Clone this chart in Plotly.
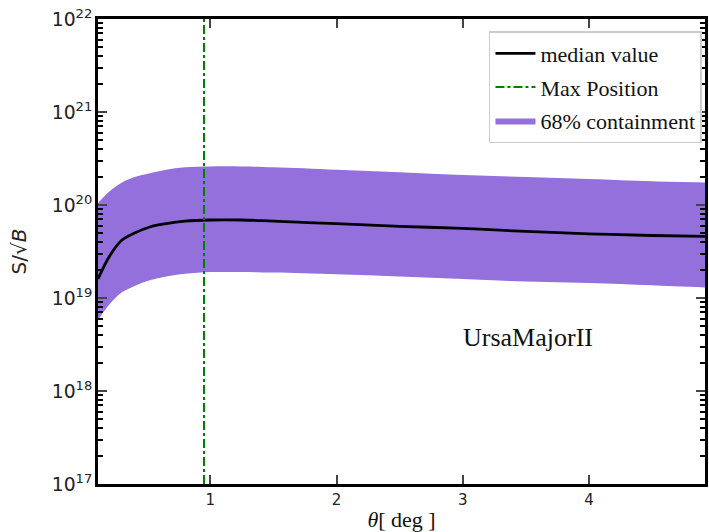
import plotly.graph_objects as go

theta = [0.11, 0.2, 0.3, 0.4, 0.52, 0.65, 0.8, 1.0, 1.25, 1.5, 2.0, 2.5, 3.0, 3.5, 4.0, 4.5, 4.92]
median = [1.6e19, 2.8e19, 4.2e19, 5.0e19, 5.8e19, 6.3e19, 6.7e19, 6.9e19, 6.9e19, 6.7e19,
          6.3e19, 5.9e19, 5.6e19, 5.2e19, 4.9e19, 4.7e19, 4.6e19]
upper = [1.05e20, 1.4e20, 1.75e20, 2.0e20, 2.2e20, 2.4e20, 2.55e20, 2.6e20, 2.6e20, 2.55e20,
         2.4e20, 2.25e20, 2.1e20, 2.0e20, 1.9e20, 1.8e20, 1.75e20]
lower = [5.8e18, 8.5e18, 1.15e19, 1.35e19, 1.55e19, 1.7e19, 1.82e19, 1.9e19, 1.9e19, 1.88e19,
         1.8e19, 1.7e19, 1.6e19, 1.5e19, 1.45e19, 1.37e19, 1.3e19]
max_pos = 0.95
x_ticks = [1, 2, 3, 4]

fig = go.Figure()
fig.add_trace(go.Scatter(x=theta, y=lower, mode="lines", line=dict(width=0, color="#9370DB"),
                         showlegend=False, hoverinfo="skip", line_shape="spline"))
fig.add_trace(go.Scatter(x=theta, y=upper, mode="lines", line=dict(width=0, color="#9370DB"),
                         fill="tonexty", fillcolor="#9370DB", name="68% containment",
                         legendgroup="c", legendrank=3, line_shape="spline"))
fig.add_trace(go.Scatter(x=theta, y=median, mode="lines", line=dict(width=2.8, color="black"),
                         name="median value", legendgroup="a", legendrank=1, line_shape="spline"))
fig.add_trace(go.Scatter(x=[max_pos, max_pos], y=[1e17, 1e22], mode="lines",
                         line=dict(width=2, color="#008000", dash="dashdot"),
                         name="Max Position", legendgroup="b", legendrank=2))

fig.update_layout(
    width=709, height=532,
    margin=dict(l=98, r=1, t=19, b=48),
    plot_bgcolor="white", paper_bgcolor="white",
    font=dict(family="DejaVu Sans", color="#222"),
    legend=dict(x=0.995, y=0.974, xanchor="right", yanchor="top", traceorder="grouped",
                font=dict(family="Liberation Serif", size=22, color="#111"),
                bgcolor="rgba(255,255,255,0.9)", bordercolor="#cccccc", borderwidth=1.5,
                tracegroupgap=2, itemwidth=40),
    annotations=[dict(x=0.709, y=0.314, xref="paper", yref="paper", text="UrsaMajorII",
                      xanchor="center", yanchor="middle",
                      showarrow=False, font=dict(family="Liberation Serif", size=26, color="#111"))],
)
fig.update_xaxes(range=[0.11, 4.92], tickvals=x_ticks, ticks="inside", ticklen=9, tickwidth=2,
                 showline=True, linewidth=2.5, linecolor="black", mirror="ticks", showgrid=False,
                 zeroline=False, tickfont=dict(size=15, family="DejaVu Sans", color="#222"),
                 title=dict(text="<i>θ</i>[ deg ]", font=dict(family="Liberation Serif", size=22, color="#111"),
                            standoff=4))
fig.update_yaxes(type="log", range=[17, 22], tickmode="linear", tick0=0, dtick=1,
                 exponentformat="power", showexponent="all",
                 ticks="inside", ticklen=9, tickwidth=2,
                 minor=dict(ticks="inside", ticklen=5, tickwidth=1.5, tickcolor="black", dtick="D1"),
                 showline=True, linewidth=2.5, linecolor="black", mirror="ticks", showgrid=False,
                 tickfont=dict(size=15, family="DejaVu Sans", color="#222"),
                 title=dict(text="S/√<i>B</i>", font=dict(size=20, family="DejaVu Sans", color="#222"),
                            standoff=20))

fig.write_html("out.html")
